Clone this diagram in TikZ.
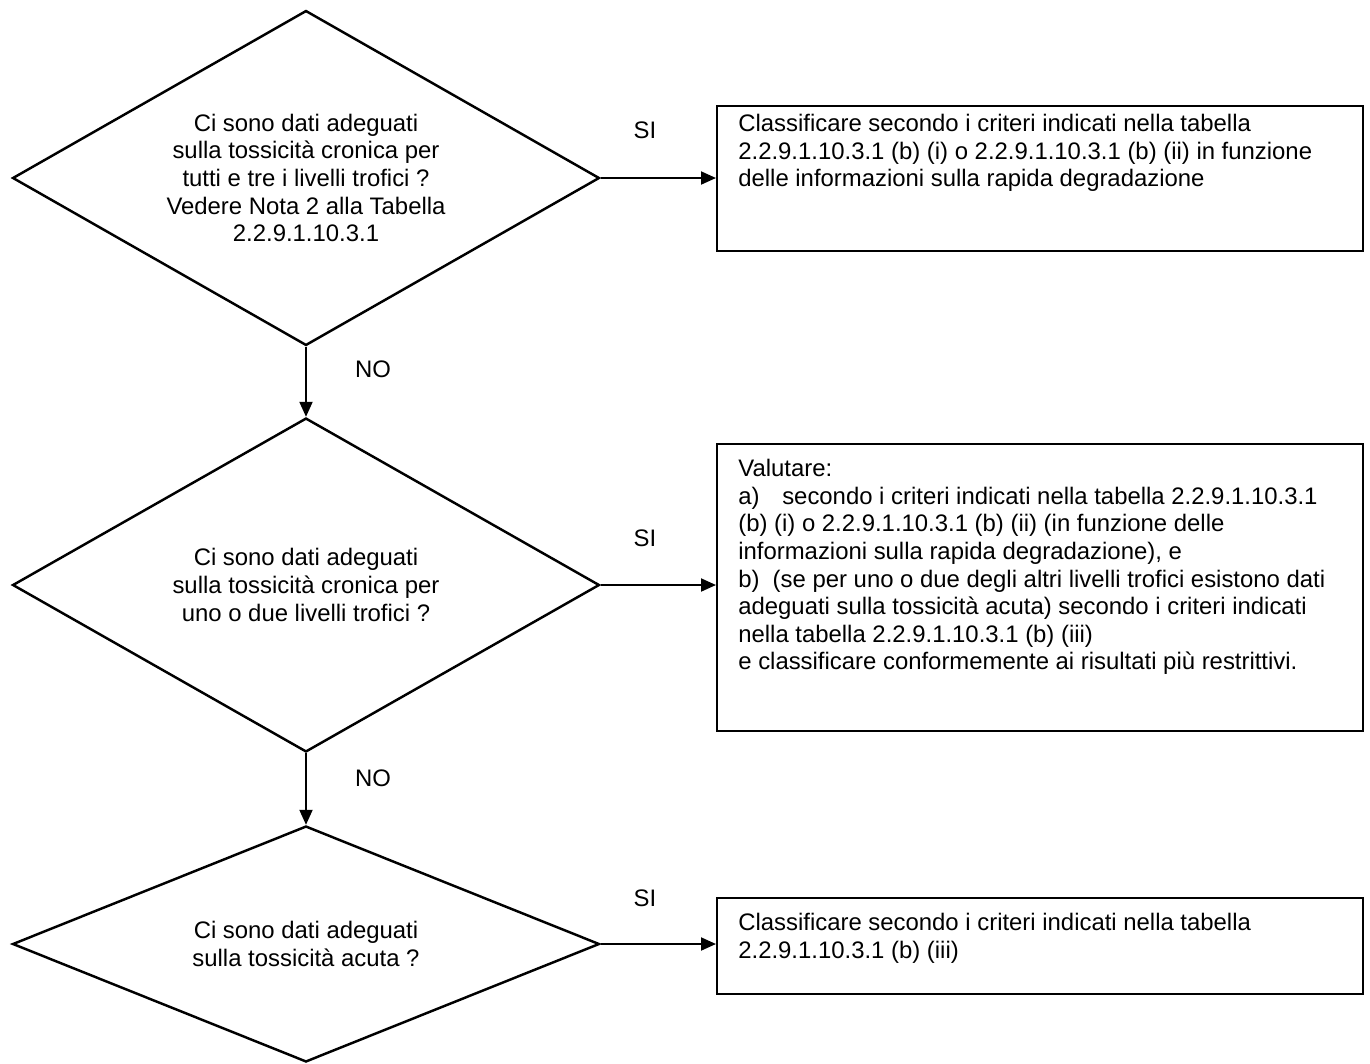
\documentclass[tikz,border=0pt]{standalone}
\usepackage{fontspec}
\setmainfont{Liberation Sans}
\usetikzlibrary{shapes.geometric, arrows.meta, positioning}

\begin{document}
\begin{tikzpicture}[
    x=0.02cm, y=-0.02cm,
    font=\fontsize{13.6}{15.7}\selectfont,
    decision/.style={diamond, draw, line width=1.4pt, minimum width=11.74cm, inner sep=0pt, align=center},
    box/.style={rectangle, draw, line width=1.2pt, minimum width=12.92cm, anchor=north west},
    boxtext/.style={anchor=north west, align=left, inner sep=0pt},
    answer/.style={inner sep=0pt},
    arrow/.style={-{Triangle[length=0.3cm,width=0.26cm]}, line width=1.1pt}
]
\useasboundingbox (0,0) rectangle (1370,1063);

% decisions
\node[decision, shape aspect=1.75, minimum height=6.7cm] (chronall) at (306,178) {Ci sono dati adeguati\\sulla tossicità cronica per\\tutti e tre i livelli trofici ?\\Vedere Nota 2 alla Tabella\\2.2.9.1.10.3.1};
\node[decision, shape aspect=1.75, minimum height=6.68cm] (chronsome) at (306,585) {Ci sono dati adeguati\\sulla tossicità cronica per\\uno o due livelli trofici ?};
\node[decision, shape aspect=2.5, minimum height=4.72cm] (acute) at (306,944) {Ci sono dati adeguati\\sulla tossicità acuta ?};

% outcomes
\node[box, minimum height=2.9cm] (classall) at (716,105) {};
\node[boxtext, below right=0.18cm and 0.44cm of classall.north west] (classalltext) {Classificare secondo i criteri indicati nella tabella\\2.2.9.1.10.3.1 (b) (i) o 2.2.9.1.10.3.1 (b) (ii) in funzione\\delle informazioni sulla rapida degradazione};

\node[box, minimum height=5.74cm] (evalsome) at (716,443) {};
\node[boxtext, below right=0.32cm and 0.44cm of evalsome.north west] (evalsometext) {Valutare:\\a)\hspace{0.95em}secondo i criteri indicati nella tabella 2.2.9.1.10.3.1\\(b) (i) o 2.2.9.1.10.3.1 (b) (ii) (in funzione delle\\informazioni sulla rapida degradazione), e\\b)\hspace{0.55em}(se per uno o due degli altri livelli trofici esistono dati\\adeguati sulla tossicità acuta) secondo i criteri indicati\\nella tabella 2.2.9.1.10.3.1 (b) (iii)\\e classificare conformemente ai risultati più restrittivi.};

\node[box, minimum height=1.92cm] (classacute) at (716,897) {};
\node[boxtext, below right=0.32cm and 0.44cm of classacute.north west] (classacutetext) {Classificare secondo i criteri indicati nella tabella\\2.2.9.1.10.3.1 (b) (iii)};

% connectors
\draw[arrow] (chronall.east) -- (chronall.east -| classall.west);
\draw[arrow] (chronsome.east) -- (chronsome.east -| evalsome.west);
\draw[arrow] (acute.east) -- (acute.east -| classacute.west);
\draw[arrow] (chronall.south) -- (chronsome.north);
\draw[arrow] (chronsome.south) -- (acute.north);

% answers
\node[answer] (si1) at (645,130) {SI};
\node[answer] (si2) at (645,538) {SI};
\node[answer] (si3) at (645,898) {SI};
\node[answer] (no1) at (373,369) {NO};
\node[answer] (no2) at (373,778) {NO};

\end{tikzpicture}
\end{document}
